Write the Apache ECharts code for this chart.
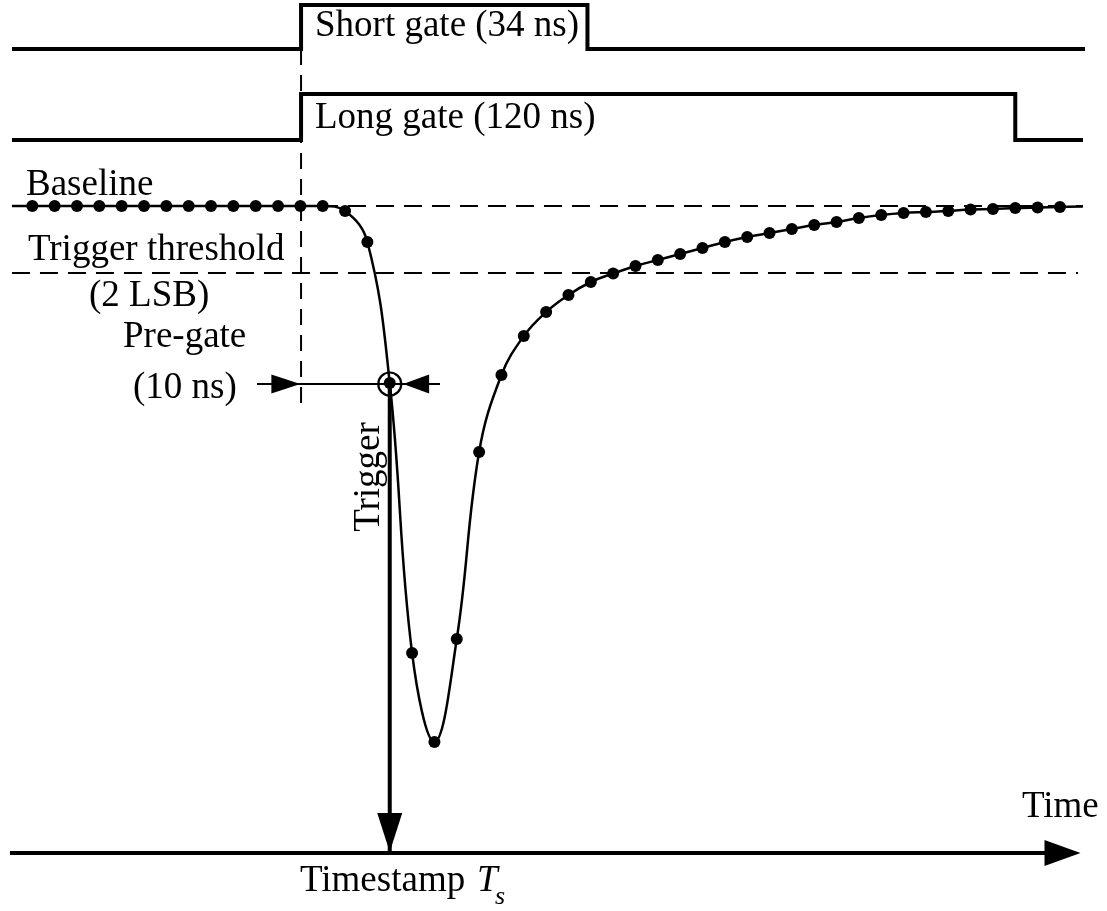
<!DOCTYPE html>
<html>
<head>
<meta charset="utf-8">
<script src="https://cdn.jsdelivr.net/npm/echarts/dist/echarts.min.js"></script>
<style>
html,body{margin:0;padding:0;background:#fff;}
#chart{width:1107px;height:911px;}
</style>
</head>
<body>
<div id="chart"></div>
<script>
// ---- Data (x = sample index, y = amplitude relative to baseline, arbitrary units) ----
const sampleAmplitude = [0,0,0,0,0,0,0,0,0,0,0,0,0,0,-5,-36,-177,-447,-536,-433,-246,-169,-130,-106,-89,-76,-67.5,-60,-54,-48,-42,-36,-31,-27,-23,-19,-16,-12,-9,-7,-6,-5,-3.5,-3,-2,-1.5,-1];
const traceStart = [-0.91, 0];
const traceEnd = [47.03, -0.5];
const triggerIndex = 16;
const triggerLevel = -178;
const thresholdLevel = -67;
const baselineLevel = 0;
const lineStartX = -0.91;
const baselineEndX = 47.03;
const thresholdEndX = 46.81;
const gateOpenX = 12.03;
const shortGateCloseX = 24.85;
const longGateCloseX = 44.0;
const shortGateLevels = [157, 201];   // low, high
const longGateLevels = [66, 112];     // low, high
const shortGateEndX = 47.12;
const longGateEndX = 47.03;
const preGateSpan = [10.06, 18.25];
const timeAxisLevel = -647;
const timeAxisSpan = [-1.0, 46.9];
const gateMarkerTop = 157;
const gateMarkerBottom = -201;
const triggerArrowHeadY = -626.5;
const timeArrowHeadX = 46.115;
const preGateLeftHeadX = 11.35;
const preGateRightHeadX = 17.18;

// ---- build series data ----
const samples = sampleAmplitude.map((v, i) => [i, v]);
const traceData = [{value: traceStart, symbol: 'none'}]
  .concat(samples)
  .concat([{value: traceEnd, symbol: 'none'}]);
const shortGate = [[lineStartX, shortGateLevels[0]], [gateOpenX, shortGateLevels[0]], [gateOpenX, shortGateLevels[1]],
  [shortGateCloseX, shortGateLevels[1]], [shortGateCloseX, shortGateLevels[0]], [shortGateEndX, shortGateLevels[0]]];
const longGate = [[lineStartX, longGateLevels[0]], [gateOpenX, longGateLevels[0]], [gateOpenX, longGateLevels[1]],
  [longGateCloseX, longGateLevels[1]], [longGateCloseX, longGateLevels[0]], [longGateEndX, longGateLevels[0]]];

const FONT = "'Liberation Serif','Times New Roman',Times,serif";
const FS = 37;
const black = '#000';

function seg(name, data, width, type, extra) {
  return Object.assign({
    type: 'line', name: name, data: data, symbol: 'none', silent: true,
    lineStyle: {color: black, width: width, type: type || 'solid'}, z: 2, animation: false
  }, extra || {});
}

const chart = echarts.init(document.getElementById('chart'), null, {renderer: 'canvas'});
const option = {
  backgroundColor: '#fff',
  animation: false,
  grid: {left: 0, right: 0, top: 0, bottom: 0, containLabel: false},
  xAxis: {type: 'value', min: -1.4459, max: 48.106, show: false},
  yAxis: {type: 'value', min: -705, max: 206, show: false},
  series: [
    seg('short gate', shortGate, 4, 'solid', {lineStyle:{color:black,width:4,join:'miter'}}),
    seg('long gate', longGate, 4, 'solid', {lineStyle:{color:black,width:4,join:'miter'}}),
    seg('baseline', [[lineStartX, baselineLevel], [baselineEndX, baselineLevel]], 2, [18, 10]),
    seg('threshold', [[lineStartX, thresholdLevel], [thresholdEndX, thresholdLevel]], 2, [18, 10]),
    seg('gate start', [[gateOpenX, gateMarkerTop], [gateOpenX, gateMarkerBottom]], 2, [16, 10]),
    seg('pre-gate', [[preGateSpan[0], triggerLevel], [preGateSpan[1], triggerLevel]], 2),
    seg('trigger arrow', [[triggerIndex, triggerLevel], [triggerIndex, timeAxisLevel]], 4),
    seg('time axis', [[timeAxisSpan[0], timeAxisLevel], [timeArrowHeadX, timeAxisLevel]], 4),
    {
      type: 'line', name: 'signal', data: traceData, smooth: 0.4,
      symbol: 'circle', symbolSize: 12, showAllSymbol: true,
      itemStyle: {color: black, opacity: 1}, lineStyle: {color: black, width: 2.5}, z: 3, silent: true
    },
    {
      type: 'scatter', name: 'trigger point', data: [[triggerIndex, triggerLevel]],
      symbol: 'circle', symbolSize: 23, silent: true, z: 4,
      itemStyle: {color: 'rgba(0,0,0,0)', borderColor: black, borderWidth: 2.2, opacity: 1}
    },
    {
      type: 'scatter', name: 'arrow heads', silent: true, z: 5,
      itemStyle: {color: black, opacity: 1},
      data: [
        {value: [triggerIndex, triggerArrowHeadY], symbol: 'triangle', symbolSize: [25, 39], symbolRotate: 180},
        {value: [timeArrowHeadX, timeAxisLevel], symbol: 'triangle', symbolSize: [26, 36], symbolRotate: -90},
        {value: [preGateLeftHeadX, triggerLevel], symbol: 'triangle', symbolSize: [19, 29], symbolRotate: -90},
        {value: [preGateRightHeadX, triggerLevel], symbol: 'triangle', symbolSize: [19, 26], symbolRotate: 90}
      ]
    }
  ],
  graphic: [
    {type:'text', x:315, y:26, style:{text:'Short gate (34 ns)', font: FS+'px '+FONT, fill:black, align:'left', verticalAlign:'middle'}},
    {type:'text', x:315, y:118, style:{text:'Long gate (120 ns)', font: FS+'px '+FONT, fill:black, align:'left', verticalAlign:'middle'}},
    {type:'text', x:26, y:185, style:{text:'Baseline', font: FS+'px '+FONT, fill:black, align:'left', verticalAlign:'middle'}},
    {type:'text', x:28, y:250, style:{text:'Trigger threshold', font: FS+'px '+FONT, fill:black, align:'left', verticalAlign:'middle'}},
    {type:'text', x:89, y:296, style:{text:'(2 LSB)', font: FS+'px '+FONT, fill:black, align:'left', verticalAlign:'middle'}},
    {type:'text', x:123, y:337, style:{text:'Pre-gate', font: FS+'px '+FONT, fill:black, align:'left', verticalAlign:'middle'}},
    {type:'text', x:133, y:388, style:{text:'(10 ns)', font: FS+'px '+FONT, fill:black, align:'left', verticalAlign:'middle'}},
    {type:'text', x:369, y:477, rotation: Math.PI/2, style:{text:'Trigger', font: FS+'px '+FONT, fill:black, align:'center', verticalAlign:'middle'}},
    {type:'text', x:1022, y:807, style:{text:'Time', font: FS+'px '+FONT, fill:black, align:'left', verticalAlign:'middle'}},
    {type:'text', x:300, y:881, style:{text:'Timestamp', font: FS+'px '+FONT, fill:black, align:'left', verticalAlign:'middle'}},
    {type:'text', x:477, y:881, style:{text:'T', font: 'italic '+FS+'px '+FONT, fill:black, align:'left', verticalAlign:'middle'}},
    {type:'text', x:495, y:897, style:{text:'s', font: 'italic 26px '+FONT, fill:black, align:'left', verticalAlign:'middle'}}
  ]
};
chart.setOption(option);
</script>
</body>
</html>
